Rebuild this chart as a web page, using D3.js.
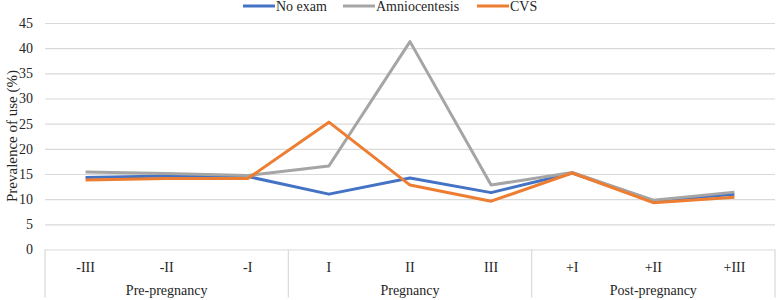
<!DOCTYPE html>
<html>
<head>
<meta charset="utf-8">
<script src="https://cdn.jsdelivr.net/npm/d3@7"></script>
<style>
  body { margin: 0; background: #fff; overflow: hidden; }
  svg { display: block; }
  svg text { fill: #262626; }
</style>
</head>
<body>
<div id="chart"></div>
<script>
const width = 778; const height = 300;
const margin = {top: 23, right: 3, bottom: 50.5, left: 45};
const innerWidth = width - margin.left - margin.right;
const innerHeight = height - margin.top - margin.bottom;
const serif = "Liberation Serif, DejaVu Serif, serif";

// data
const categories = ["-III", "-II", "-I", "I", "II", "III", "+I", "+II", "+III"];
const groups = ["Pre-pregnancy", "Pregnancy", "Post-pregnancy"];
const seriesNames = ["No exam", "Amniocentesis", "CVS"];
const noExam = [14.3, 14.6, 14.5, 11.0, 14.2, 11.3, 15.2, 9.7, 11.0];
const amnio = [15.4, 15.1, 14.7, 16.6, 41.3, 12.8, 15.3, 9.8, 11.4];
const cvs = [13.8, 14.1, 14.1, 25.3, 12.8, 9.6, 15.2, 9.3, 10.4];
const yTicks = [0, 5, 10, 15, 20, 25, 30, 35, 40, 45];
const colors = ["#4472c4", "#a5a5a5", "#ed7d31"];

const seriesData = [noExam, amnio, cvs];

let svg = d3.select('#chart')
    .append('svg')
        .attr('width', width)
        .attr('height', height)
        .style('font-family', serif);
let plotG = svg.append('g')
    .attr('transform', `translate(${margin.left}, ${margin.top})`);

const x_scale = d3.scaleBand()
    .domain(categories)
    .range([0, innerWidth]);
const y_scale = d3.scaleLinear()
    .domain([0, 45])
    .range([innerHeight, 0]);

// grid lines
const y_axis = d3.axisLeft(y_scale)
    .tickValues(yTicks)
    .tickSize(-innerWidth)
    .tickPadding(12);
const yG = plotG.append('g').call(y_axis);
yG.attr('font-family', null);
yG.select('.domain').remove();
yG.selectAll('.tick line').attr('stroke', '#d9d9d9').attr('stroke-width', 1.2);
yG.selectAll('.tick text').attr('font-size', 14).attr('fill', '#262626');

// category axis
const xG = plotG.append('g')
    .attr('transform', `translate(0, ${innerHeight})`);
xG.selectAll('text.cat')
    .data(categories)
    .join('text')
        .attr('class', 'cat')
        .attr('x', d => x_scale(d) + x_scale.bandwidth() / 2)
        .attr('y', 22)
        .attr('text-anchor', 'middle')
        .attr('font-size', 14)
        .text(d => d);
xG.selectAll('text.grp')
    .data(groups)
    .join('text')
        .attr('class', 'grp')
        .attr('x', (d, i) => x_scale(categories[i * 3]) + x_scale.bandwidth() * 1.5)
        .attr('y', 45.5)
        .attr('text-anchor', 'middle')
        .attr('font-size', 14)
        .text(d => d);
// group dividers
const dividerX = [0, 3, 6, 9].map(i => i < 9 ? x_scale(categories[i]) : innerWidth);
xG.selectAll('line.div')
    .data(dividerX)
    .join('line')
        .attr('class', 'div')
        .attr('x1', d => d).attr('x2', d => d)
        .attr('y1', 0).attr('y2', 48)
        .attr('stroke', '#d9d9d9')
        .attr('stroke-width', 1.2);

// lines
const line = d3.line()
    .x((d, i) => x_scale(categories[i]) + x_scale.bandwidth() / 2)
    .y(d => y_scale(d));
plotG.selectAll('path.series')
    .data(seriesData)
    .join('path')
        .attr('class', 'series')
        .attr('fill', 'none')
        .attr('stroke', (d, i) => colors[i])
        .attr('stroke-width', 3)
        .attr('stroke-linejoin', 'round')
        .attr('d', line);

// y label
svg.append('text')
    .attr('transform', `translate(17, 136) rotate(-90)`)
    .attr('text-anchor', 'middle')
    .attr('font-size', 15)
    .text('Prevalence of use (%)');

// legend
const legendX = [243, 343, 477];
const legend = svg.selectAll('g.legend')
    .data(seriesNames)
    .join('g')
        .attr('class', 'legend')
        .attr('transform', (d, i) => `translate(${legendX[i]}, 6)`);
legend.append('line')
    .attr('x1', 0).attr('x2', 32)
    .attr('stroke', (d, i) => colors[i])
    .attr('stroke-width', 3);
legend.append('text')
    .attr('x', 33)
    .attr('y', 5)
    .attr('font-size', 14)
    .text(d => d);
</script>
</body>
</html>
